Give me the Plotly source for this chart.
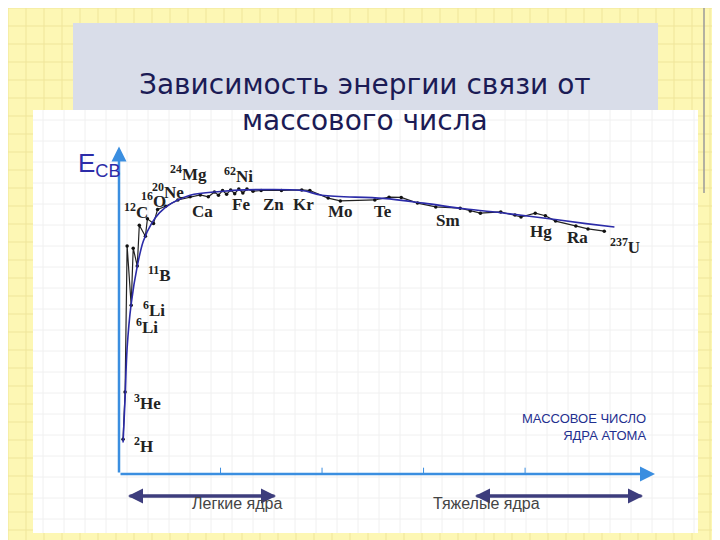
import plotly.graph_objects as go

# experimental binding energy per nucleon (black curve with dots)
a_exp = [2, 3, 4, 6, 7, 9, 10, 13, 14, 17, 19, 23, 29, 35, 40, 44, 47, 49, 51, 53, 55, 57, 59,
         61, 63, 66, 70, 80, 90, 94, 103, 109, 126, 133, 139, 147, 156, 168, 173, 178, 188,
         195, 198, 205, 210, 215, 225, 231, 239]
e_exp = [1.1, 2.6, 7.24, 5.36, 7.17, 6.6, 7.9, 7.55, 8.1, 7.95, 8.4, 8.5, 8.7, 8.8, 8.86, 8.8,
         8.95, 8.85, 9.0, 8.88, 9.02, 8.9, 9.05, 8.92, 9.05, 8.98, 9.0, 9.0, 9.02, 9.0, 8.76,
         8.67, 8.7, 8.79, 8.78, 8.6, 8.48, 8.44, 8.35, 8.28, 8.32, 8.22, 8.16, 8.28, 8.2, 8.03,
         7.87, 7.78, 7.71]

# smooth fit (blue curve)
a_fit = [2, 3, 4, 6, 9, 12, 16, 20, 26, 35, 50, 62, 90, 100, 130, 150, 170, 190, 210, 230, 244]
e_fit = [1.0, 2.4, 4.0, 5.4, 6.6, 7.4, 7.95, 8.3, 8.6, 8.85, 8.97, 9.02, 9.0, 8.85, 8.75, 8.6,
         8.42, 8.28, 8.12, 7.95, 7.84]

# element labels: text, A position, E position
lbl_text = ["<sup>2</sup>H", "<sup>3</sup>He", "<sup>6</sup>Li", "<sup>6</sup>Li", "<sup>11</sup>B",
            "<sup>4</sup>He", "<sup>12</sup>C", "<sup>16</sup>O", "<sup>20</sup>Ne", "<sup>24</sup>Mg",
            "<sup>62</sup>Ni", "Ca", "Fe", "Zn", "Kr", "Mo", "Te", "Sm", "Hg", "Ra",
            "<sup>237</sup>U"]
lbl_a = [12, 14, 17, 14, 20, -9, 8.5, 17, 24, 34, 59, 41, 60, 76, 91, 109, 130, 162, 208, 226, 249]
lbl_e = [0.92, 2.3, 5.25, 4.7, 6.35, 7.4, 8.35, 8.7, 9.0, 9.55, 9.5, 8.35, 8.57, 8.57, 8.57,
         8.32, 8.35, 8.06, 7.71, 7.5, 7.25]

x_ticks = [0, 50, 100, 150, 200]
y_ticks = [1, 2, 3, 4, 5, 6, 7, 8, 9]

W, H = 720, 540
def px(x):
    return x / W
def py(y):
    return 1 - y / H

AX = "#3a8ee0"

fig = go.Figure()
fig.add_trace(go.Scatter(x=a_exp, y=e_exp, mode="lines+markers",
                         line=dict(color="#222222", width=1.2),
                         marker=dict(color="#111111", size=3.5)))
fig.add_trace(go.Scatter(x=a_fit, y=e_fit, mode="lines", line=dict(color="#2b2ba8", width=1.6),
                         line_shape="spline"))

shapes = []
# yellow page background grid
for gx in range(0, W, 18):
    shapes.append(dict(type="line", xref="paper", yref="paper", x0=px(gx), x1=px(gx), y0=0, y1=1,
                       line=dict(color="#efe59a", width=1), layer="below"))
for gy in range(0, H, 18):
    shapes.append(dict(type="line", xref="paper", yref="paper", x0=0, x1=1, y0=py(gy), y1=py(gy),
                       line=dict(color="#efe59a", width=1), layer="below"))
# title box and white chart panel
shapes.append(dict(type="rect", xref="paper", yref="paper", x0=px(65), x1=px(650), y0=py(102), y1=py(15),
                   fillcolor="#d9dde9", line=dict(width=0), layer="below"))
shapes.append(dict(type="rect", xref="paper", yref="paper", x0=px(25), x1=px(690), y0=py(525), y1=py(102),
                   fillcolor="white", line=dict(width=0), layer="below"))
for gx in range(35, 690, 21):
    shapes.append(dict(type="line", xref="paper", yref="paper", x0=px(gx), x1=px(gx), y0=py(525), y1=py(102),
                       line=dict(color="#f0f0f0", width=1), layer="below"))
for gy in range(112, 525, 21):
    shapes.append(dict(type="line", xref="paper", yref="paper", x0=px(25), x1=px(690), y0=py(gy), y1=py(gy),
                       line=dict(color="#f0f0f0", width=1), layer="below"))
shapes.append(dict(type="line", xref="paper", yref="paper", x0=px(696), x1=px(696), y0=py(185), y1=1,
                   line=dict(color="#9a9a9a", width=1.5)))
# ticks
for t in y_ticks:
    shapes.append(dict(type="line", xref="x", yref="y", x0=-2.5, x1=0, y0=t, y1=t, line=dict(color=AX, width=1)))
for t in x_ticks[1:]:
    shapes.append(dict(type="line", xref="x", yref="y", x0=t, x1=t, y0=0, y1=0.2, line=dict(color=AX, width=1)))

ann = []
# axis arrows
ann.append(dict(x=0, y=10.4, ax=0, ay=0, xref="x", yref="y", axref="x", ayref="y", text="",
                showarrow=True, arrowhead=2, arrowsize=1.2, arrowwidth=2.5, arrowcolor=AX))
ann.append(dict(x=264, y=0, ax=0, ay=0, xref="x", yref="y", axref="x", ayref="y", text="",
                showarrow=True, arrowhead=2, arrowsize=1.2, arrowwidth=2.5, arrowcolor=AX))
# double arrows under the axis
for x0, x1 in [(120, 268), (467, 635)]:
    for a, b in [(x0, x1), (x1, x0)]:
        ann.append(dict(x=px(b), y=py(488), ax=a - b, ay=0, xref="paper", yref="paper",
                        text="", showarrow=True, arrowhead=2,
                        arrowsize=1, arrowwidth=3, arrowcolor="#3d3d7d"))
ann.append(dict(x=px(182), y=py(506), xref="paper", yref="paper", text="Легкие ядра", showarrow=False,
                font=dict(family="Liberation Sans", size=16, color="#444444")))
ann.append(dict(x=px(534), y=py(506), xref="paper", yref="paper", text="Тяжелые ядра", showarrow=False,
                font=dict(family="Liberation Sans", size=16, color="#444444")))
# tick labels
for t in y_ticks:
    ann.append(dict(x=-4, y=t, xref="x", yref="y", text=str(t), showarrow=False, xanchor="right",
                    font=dict(family="Liberation Sans", size=14, color="#333333")))
for t in x_ticks:
    ann.append(dict(x=t, y=-0.45, xref="x", yref="y", text=str(t), showarrow=False,
                    xshift=-4 if t == 0 else 0,
                    font=dict(family="Liberation Sans", size=14, color="#333333")))
ann.append(dict(x=px(640), y=py(437), xref="paper", yref="paper", xanchor="right",
                text="МАССОВОЕ ЧИСЛО<br>ЯДРА АТОМА", align="right", showarrow=False,
                font=dict(family="Liberation Sans", size=13, color="#1f2f8f")))
ann.append(dict(x=px(68), y=py(138), xref="paper", yref="paper", xanchor="left",
                text="E<sub>CB</sub>", showarrow=False,
                font=dict(family="Liberation Sans", size=26, color="#2c2ca8")))
for t, a, e in zip(lbl_text, lbl_a, lbl_e):
    ann.append(dict(x=a, y=e, xref="x", yref="y", text="<b>" + t + "</b>", showarrow=False,
                    font=dict(family="Liberation Serif", size=17, color="#222222")))
ann.append(dict(x=px(357), y=py(58), xref="paper", yref="paper",
                text="Зависимость энергии связи от<br>массового числа", showarrow=False,
                font=dict(family="DejaVu Sans", size=28, color="#1b1b55")))

fig.update_layout(
    width=W, height=H, margin=dict(l=0, r=0, t=0, b=0),
    paper_bgcolor="#fdf7b4", plot_bgcolor="rgba(0,0,0,0)", showlegend=False,
    shapes=shapes, annotations=ann,
    xaxis=dict(domain=[px(111), px(645)], range=[0, 263], showgrid=False, zeroline=False,
               showticklabels=False, showline=False),
    yaxis=dict(domain=[py(466), py(140)], range=[0, 10.35], showgrid=False, zeroline=False,
               showticklabels=False, showline=False),
)
fig.write_html("out.html")
